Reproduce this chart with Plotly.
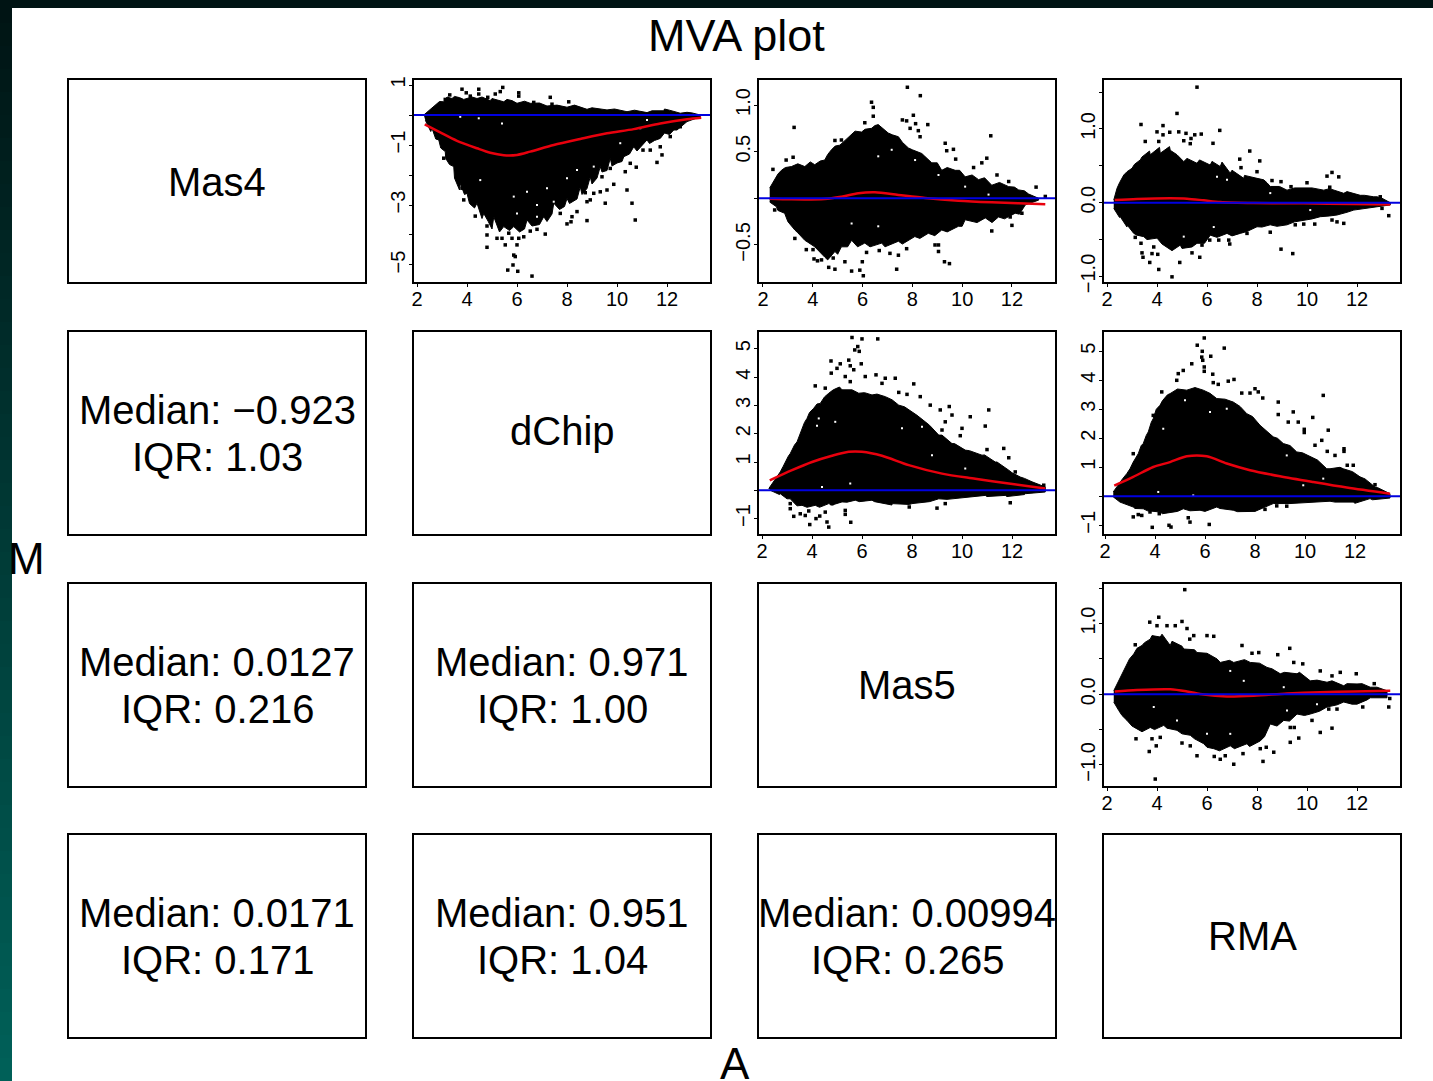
import plotly.graph_objects as go

TITLE = "MVA plot"
XLABEL = "A"
YLABEL = "M"
NAMES = {"p11": "Mas4", "p22": "dChip", "p33": "Mas5", "p44": "RMA"}
STATS = {
    "p21": ("Median: \u22120.923", "IQR: 1.03"),
    "p31": ("Median: 0.0127", "IQR: 0.216"),
    "p32": ("Median: 0.971", "IQR: 1.00"),
    "p41": ("Median: 0.0171", "IQR: 0.171"),
    "p42": ("Median: 0.951", "IQR: 1.04"),
    "p43": ("Median: 0.00994", "IQR: 0.265"),
}
A_TICKS = [2, 4, 6, 8, 10, 12]

# Mas4 vs dChip
p12_top = [(2.27,0),(2.47,.14),(2.73,.33),(3.07,.44),(3.4,.55),(3.87,.52),(4.4,.55),(4.93,.48),(5.47,.44),(6,.39),(6.53,.39),(7.2,.3),(8,.26),(8.8,.19),(9.6,.17),(10.4,.11),(11.2,.08),(11.87,.14),(12.53,.06),(13.33,0)]
p12_low = [(13.33,-.06),(12.8,-.22),(12.27,-.5),(11.73,-.78),(11.2,-.83),(10.67,-1.06),(10.27,-1.39),(9.73,-1.44),(9.33,-1.72),(8.93,-2.06),(8.53,-2.39),(8,-2.78),(7.47,-2.94),(7.07,-3.39),(6.4,-3.5),(5.87,-3.72),(5.47,-3.72),(5.07,-3.39),(4.67,-3.28),(4.4,-2.94),(4,-2.61),(3.73,-2.28),(3.47,-1.72),(3.13,-1.22),(2.87,-.83),(2.6,-.44),(2.33,-.17)]
p12_out = [(5.43,.92),(4.47,.86),(3.8,.86),(3.97,.74),(4.47,.7),(5.33,.78),(6.07,.74),(6.07,.63),(3.31,.67),(3.13,.52),(3.67,.48),(4.13,.63),(4.83,.59),(5.13,.7),(7.33,.59),(6.67,.42),(7.4,.36),(8.07,.44),(3.07,-1.44),(3.8,-2.44),(3.87,-2.83),(4.33,-3.37),(4.8,-3.7),(4.8,-4),(4.8,-4.41),(5.2,-4.11),(5.4,-4.11),(5.53,-4.33),(5.67,-3.94),(5.8,-4.11),(6,-4.33),(6.07,-4.11),(5.87,-4.67),(5.93,-4.72),(5.84,-5),(5.63,-5.17),(6.03,-5.21),(6.6,-5.37),(7.13,-3.97),(6.8,-3.81),(6.53,-3.87),(6.27,-4.06),(8,-3.63),(8.16,-3.56),(8.8,-3.52),(8.4,-3.22),(7.73,-3.28),(8.2,-3.39),(10.73,-3.5),(10.6,-2.94),(10.4,-2.5),(9.53,-2.94),(9.87,-2.31),(9.6,-2.5),(9.33,-2.56),(8.8,-2.89),(8.93,-2.83),(9.07,-2.61),(8.73,-2.59),(11.6,-1.58),(11.8,-1.33),(10.77,-1.74),(10.53,-1.61),(10.33,-1.89),(9.73,-1.78),(9.4,-2.06),(11.04,-1.17),(11.33,-1.17),(11.73,-1.06),(12.13,-.72),(12.53,-.39)]
p12_edge = [(12.6,-.35),(12.4,-.5),(12.1,-.65),(11.9,-.6),(11.5,-.85),(11.3,-.95),(11,-1.0),(10.8,-1.2),(10.5,-1.3),(10.2,-1.55),(10,-1.6),(9.8,-1.7),(9.6,-1.85),(9.4,-1.9),(9.2,-2.1),(9,-2.3),(8.8,-2.45),(8.6,-2.65),(8.4,-2.8),(8.1,-2.95),(7.9,-3.05),(7.7,-3.15),(7.4,-3.3),(7.2,-3.55),(6.9,-3.65),(6.6,-3.7),(6.3,-3.8),(6.1,-3.9),(5.7,-3.85),(5.3,-3.9),(5,-3.8),(4.85,-3.55),(4.6,-3.45),(4.3,-3.1),(4.1,-2.95),(3.9,-2.65),(3.7,-2.5),(3.5,-2.1),(3.3,-1.65),(3.15,-1.45),(2.95,-1.1),(2.75,-.8),(2.55,-.55),(2.9,.45),(3.2,.6),(3.5,.62),(3.7,.58),(4.2,.6),(4.6,.6),(5,.55),(5.6,.52),(5.8,.48),(6.3,.46),(6.9,.4),(7.6,.33),(8.3,.33),(9,.24),(9.9,.2),(10.7,.16),(11.4,.14),(11.9,.2),(12.1,.16),(12.8,.09),(13,.07)]
p12_gap = [(5.87,-2.72),(6.8,-3),(7.2,-2.44),(8,-2.11),(8.4,-1.83),(7.47,-2.89),(9.07,-1.72),(10.13,-.94),(4.53,-2.17),(6.4,-2.56),(6,-3.28),(6.8,-3.39),(5.4,-.28),(3.73,-.06),(4.47,-.11),(11.2,-.17),(10.93,-.44)]
p12_fit = [(2.31,-.31),(2.93,-.58),(3.6,-.86),(4.4,-1.11),(4.93,-1.26),(5.47,-1.34),(6,-1.33),(6.53,-1.22),(7.47,-1),(8.53,-.8),(9.6,-.61),(10.67,-.47),(11.73,-.28),(12.8,-.14),(13.37,-.09)]

# Mas4 vs Mas5
p13_top = [(2.27,.11),(2.47,.21),(2.74,.30),(3.14,.34),(3.68,.34),(4.08,.36),(4.48,.41),(4.75,.52),(5.09,.57),(5.56,.68),(5.96,.71),(6.36,.75),(6.63,.79),(7.03,.70),(7.44,.66),(7.84,.54),(8.38,.48),(8.78,.38),(9.18,.30),(9.72,.30),(10.12,.23),(10.66,.20),(11.19,.14),(11.87,.125),(12.27,.09),(12.67,.046),(13.07,0)]
p13_low = [(13.07,-.02),(12.54,-.07),(12.13,-.16),(11.46,-.2),(10.93,-.21),(10.12,-.23),(9.85,-.30),(9.18,-.34),(8.64,-.375),(8.1,-.41),(7.44,-.46),(6.77,-.48),(6.09,-.48),(5.56,-.45),(5.15,-.52),(4.89,-.57),(4.48,-.63),(4.08,-.52),(3.68,-.45),(3.28,-.34),(2.87,-.16),(2.54,-.09),(2.27,-.04)]
p13_out = [(7.8,1.19),(8.32,1.10),(6.36,1.03),(6.43,.975),(6.43,.88),(3.25,.76),(11.15,.67),(9.32,.59),(9.38,.51),(9.65,.525),(9.74,.42),(3.21,.44),(2.93,.41),(2.4,.31),(4.89,.62),(5.15,.625),(7.6,.84),(7.77,.83),(8.04,.89),(8.13,.80),(8.62,.79),(8.24,.725),(8.31,.66),(7.91,.75),(6.09,.81),(10.79,.38),(10.99,.43),(10.46,.33),(11.4,.25),(11.87,.18),(12.97,.12),(13.34,.02),(11.19,-.35),(12,-.29),(12.4,-.16),(11.93,-.2),(3.74,-.55),(4.01,-.55),(4.05,-.65),(4.19,-.67),(4.35,-.66),(4.82,-.64),(5.29,-.68),(4.64,-.74),(4.89,-.76),(5.56,-.78),(5.89,-.77),(6.03,-.83),(5.99,-.68),(7.37,-.76),(7.44,-.61),(7.1,-.59),(6.67,-.56),(6.16,-.58),(7.77,-.54),(8.91,-.5),(9.05,-.5),(9.05,-.57),(9.29,-.68),(9.49,-.70),(3.28,-.43),(2.47,-.125)]
p13_edge = [(2.6,.26),(2.9,.33),(3.4,.37),(3.9,.39),(4.3,.4),(4.6,.47),(4.9,.56),(5.3,.62),(5.7,.72),(6.1,.74),(6.5,.78),(6.8,.75),(7.2,.68),(7.6,.6),(8,.52),(8.5,.45),(9,.38),(9.4,.33),(9.9,.3),(10.4,.25),(10.9,.22),(11.5,.17),(12.1,.12),(12.5,.08),(2.6,-.13),(3,-.25),(3.4,-.37),(3.8,-.47),(4.2,-.56),(4.6,-.66),(5,-.6),(5.4,-.52),(5.8,-.52),(6.3,-.52),(6.9,-.52),(7.6,-.49),(8.3,-.43),(8.9,-.4),(9.4,-.36),(10,-.3),(10.6,-.26),(11.2,-.26),(11.7,-.22),(12.3,-.17)]
p13_gap = [(6.63,.45),(7.17,.52),(8.11,.41),(5.56,-.27),(6.63,-.30),(9.05,.25),(10.12,.125),(11.06,.04)]
p13_fit = [(2.27,-.004),(3.14,-.011),(4.48,-.007),(5.15,.018),(5.83,.054),(6.5,.064),(7.44,.036),(8.51,.004),(9.85,-.025),(11.19,-.043),(12.27,-.054),(13.34,-.064)]

# Mas4 vs RMA
p14_top = [(2.27,.036),(2.4,.195),(2.67,.375),(3,.466),(3.33,.58),(3.73,.65),(4.13,.67),(4.53,.71),(5.07,.557),(5.6,.534),(6.13,.51),(6.53,.49),(6.93,.40),(7.47,.33),(8.27,.31),(8.53,.22),(9.2,.17),(9.87,.195),(10.67,.17),(11.47,.127),(12.13,.10),(12.67,.08),(13,.06),(13.33,0)]
p14_low = [(13.33,-.03),(12.53,-.063),(11.87,-.10),(11.2,-.167),(10.53,-.19),(9.87,-.235),(9.2,-.30),(8.53,-.30),(8,-.326),(7.33,-.416),(6.8,-.416),(6.13,-.44),(5.6,-.55),(4.93,-.575),(4.4,-.6),(4,-.48),(3.47,-.46),(3.07,-.416),(2.8,-.30),(2.53,-.19),(2.27,-.077)]
p14_out = [(5.6,1.566),(4.8,1.21),(3.36,1.06),(4.24,1.045),(6.51,.98),(4,.96),(4.51,.955),(4.87,.96),(5.16,.94),(5.51,.92),(5.77,.93),(4.24,.92),(3.53,.83),(4.07,.83),(5.07,.84),(5.36,.87),(5.33,.80),(6.24,.805),(7.71,.70),(8.11,.566),(7.31,.59),(7.36,.475),(8,.42),(8.6,.30),(8.96,.285),(9.36,.217),(10,.27),(10.8,.36),(11,.41),(11.27,.35),(10.91,.21),(12.93,.08),(13.27,-.176),(13,-.077),(11.47,-.28),(11.2,-.26),(11,-.235),(10.31,-.29),(9.87,-.29),(9.53,-.30),(8.53,-.40),(8.96,-.63),(9.43,-.69),(7.6,-.416),(6.91,-.56),(6.87,-.507),(6.47,-.507),(6.11,-.507),(5.8,-.575),(5.71,-.74),(5.4,-.68),(4.91,-.81),(4.6,-1.005),(4.07,-.905),(3.71,-.81),(3.44,-.74),(3.4,-.68),(3.8,-.69),(4.03,-.70),(3.87,-.6),(3.36,-.55),(3.13,-.47)]
p14_edge = [(2.5,.27),(2.8,.42),(3.1,.52),(3.4,.62),(3.7,.7),(4.1,.75),(4.5,.76),(4.8,.65),(5.2,.6),(5.7,.58),(6.2,.56),(6.6,.55),(7,.44),(7.5,.37),(8,.33),(8.4,.27),(8.9,.22),(9.5,.2),(10.2,.2),(10.9,.19),(11.6,.15),(12.3,.1),(12.8,.08),(2.5,-.2),(2.8,-.33),(3.2,-.44),(3.6,-.5),(4.2,-.56),(4.6,-.65),(5,-.62),(5.4,-.6),(5.9,-.55),(6.4,-.47),(7,-.45),(7.6,-.39),(8.2,-.33),(8.8,-.32),(9.5,-.26),(10.2,-.22),(10.9,-.18),(11.6,-.13),(12.3,-.08)]
p14_gap = [(6.4,.35),(6.8,.31),(8.53,.13),(10.13,-.1),(5.07,-.46),(6.27,-.33)]
p14_fit = [(2.31,.036),(3.2,.05),(4.53,.059),(5.2,.054),(5.87,.032),(6.53,.009),(7.87,-.005),(9.87,-.009),(11.87,-.018),(13.33,-.023)]

# dChip vs Mas5
p23_top = [(2.27,.06),(2.47,.30),(2.73,.65),(2.93,1.0),(3.13,1.30),(3.4,1.71),(3.6,2.13),(3.8,2.54),(4.07,2.90),(4.33,3.07),(4.67,3.43),(5.2,3.55),(5.87,3.43),(6.4,3.37),(6.93,3.31),(7.47,3.01),(8,2.78),(8.53,2.42),(9.07,1.95),(9.6,1.65),(10.13,1.42),(10.8,1.24),(11.33,1.0),(11.87,.71),(12.33,.47),(12.8,.30),(13.33,.12)]
p23_low = [(13.33,-.06),(12.53,-.12),(11.73,-.18),(10.93,-.18),(9.87,-.27),(9.07,-.3),(8,-.47),(7.2,-.47),(6.4,-.35),(5.73,-.35),(5.2,-.41),(4.67,-.47),(4.13,-.53),(3.6,-.53),(3.13,-.3),(2.73,-.12),(2.33,0)]
p23_out = [(5.6,5.40),(6,5.35),(6.63,5.35),(5.83,5.08),(5.71,4.96),(5.89,4.91),(4.76,4.57),(5.47,4.6),(5.53,4.40),(5.13,4.47),(5.97,4.47),(5,4.31),(4.77,4.14),(5.67,4.26),(5.33,4.02),(6.13,4.02),(6.56,4.08),(5.53,3.84),(6.8,3.78),(6.93,3.96),(7.33,3.96),(8.07,3.76),(4.13,3.69),(4.53,3.61),(7.47,3.46),(8.33,3.31),(7.8,3.39),(8.73,3.01),(9.13,2.84),(9.49,2.96),(11.07,2.84),(10.33,2.6),(9.6,2.66),(9.2,2.13),(9.33,2.42),(10.93,2.27),(10,2.19),(9.93,1.93),(11.67,1.48),(11.87,1.15),(11,1.44),(12.13,.65),(13.27,.18),(11.93,-.44),(9.33,-.47),(9,-.63),(7.89,-.59),(5.55,-1.13),(4.67,-1.3),(4.6,-1.12),(3.91,-1.21),(4.16,-1.0),(3.27,-.92),(3.53,-.83),(3.73,-.89),(4.31,-.91),(4.53,-.77),(4.8,-.47),(5.33,-.71),(5.33,-.85),(3.13,-.65),(3.13,-.47),(3.87,-.73)]
p23_edge = [(2.6,.5),(2.85,.85),(3.05,1.2),(3.3,1.6),(3.5,1.95),(3.7,2.4),(3.9,2.75),(4.2,3.05),(4.5,3.3),(4.85,3.55),(5.1,3.65),(5.6,3.55),(6.1,3.45),(6.6,3.4),(7.2,3.2),(7.7,2.95),(8.2,2.65),(8.7,2.3),(9.2,1.95),(9.7,1.65),(10.3,1.4),(10.9,1.25),(11.4,1.0),(12,.62),(12.5,.42),(2.7,-.15),(3,-.3),(3.4,-.55),(3.8,-.6),(4.3,-.6),(4.8,-.52),(5.4,-.42),(5.9,-.4),(6.5,-.4),(7.2,-.52),(7.9,-.5),(8.7,-.4),(9.4,-.32),(10.2,-.25),(11,-.22),(11.8,-.22),(12.5,-.15)]
p23_gap = [(4.93,2.42),(4.2,2.28),(4.27,2.54),(7.6,2.19),(8.4,2.25),(5.53,.24),(4.4,.12),(10.13,.77),(8.8,1.24)]
p23_fit = [(2.31,.35),(3.2,.71),(4,1.0),(4.8,1.22),(5.47,1.36),(6,1.36),(6.8,1.22),(7.87,.89),(9.2,.59),(10.53,.41),(11.87,.24),(13.33,.06)]

# dChip vs RMA
p24_top = [(2.33,.15),(2.6,.49),(2.87,.78),(3.13,1.18),(3.33,1.47),(3.53,1.82),(3.73,2.22),(3.93,2.68),(4.2,3.14),(4.6,3.54),(5.27,3.66),(5.93,3.66),(6.47,3.37),(7.13,3.25),(7.67,2.85),(8.2,2.45),(8.73,2.05),(9.13,1.82),(9.67,1.53),(10.33,1.30),(10.87,.95),(11.53,.95),(12.2,.67),(12.8,.32),(13.4,.09)]
p24_low = [(13.4,-.06),(12.6,-.08),(11.93,-.2),(11,-.17),(9.93,-.22),(8.73,-.25),(8.07,-.48),(7.13,-.48),(6.47,-.37),(5.8,-.48),(5.13,-.43),(4.73,-.54),(4.2,-.54),(3.53,-.43),(3.13,-.37),(2.6,-.2),(2.33,-.02)]
p24_out = [(5.97,5.46),(5.69,5.21),(6.77,5.11),(5.89,5.0),(6.23,4.83),(5.87,4.8),(5.91,4.69),(5.97,4.46),(5.97,4.31),(5.47,4.57),(5.13,4.34),(4.93,4.23),(4.87,4.0),(6.31,4.21),(6.33,3.92),(6.53,3.86),(6.93,3.97),(7.16,4.03),(4.27,3.6),(8,3.71),(8.13,3.6),(7.8,3.56),(7.47,3.56),(8.31,3.39),(8.93,3.25),(9.53,2.91),(9.33,2.56),(9.73,2.56),(8.93,2.82),(10.73,3.48),(10.31,2.72),(10.93,2.28),(9.97,2.31),(9.97,2.2),(10.67,1.93),(11.56,1.64),(11.56,1.55),(11.2,1.41),(10.89,1.55),(10.4,1.76),(11.93,1.07),(11.69,1.07),(12.8,.4),(3.13,1.47),(3.93,2.79),(9.27,-.34),(8.87,-.33),(8.4,-.45),(7.67,-.46),(6.17,-.97),(5.4,-.89),(5.33,-.74),(4.64,-1.06),(4.56,-1.0),(3.89,-1.07),(4.17,-.6),(3.8,-.54),(3.13,-.71),(3.33,-.63),(3.47,-.66)]
p24_edge = [(2.7,.6),(3,.95),(3.2,1.3),(3.45,1.75),(3.65,2.1),(3.85,2.55),(4.05,3),(4.3,3.3),(4.5,3.5),(4.9,3.7),(5.6,3.75),(6.2,3.55),(6.8,3.35),(7.4,3.1),(7.9,2.75),(8.4,2.3),(8.9,2),(9.4,1.75),(9.9,1.5),(10.5,1.25),(11,.95),(11.4,1),(11.9,.85),(12.4,.6),(12.9,.3),(2.8,-.25),(3.2,-.42),(3.7,-.5),(4.3,-.6),(4.9,-.52),(5.4,-.5),(6,-.52),(6.6,-.42),(7.3,-.53),(8,-.52),(8.6,-.3),(9.4,-.25),(10.2,-.22),(11.2,-.2),(12,-.24),(12.7,-.12)]
p24_gap = [(5.2,3.31),(4.33,2.33),(6.2,2.91),(6.87,3.02),(4.13,.15),(5.53,.03),(9.27,1.41),(9.93,.38),(10.73,.61)]
p24_fit = [(2.37,.37),(3.13,.67),(3.93,1.01),(4.6,1.18),(5.27,1.38),(6.07,1.38),(6.87,1.13),(7.8,.9),(9,.69),(10.33,.49),(11.67,.3),(13.4,.09)]

# Mas5 vs RMA
p34_top = [(2.27,.05),(2.47,.19),(2.73,.38),(3.07,.57),(3.4,.69),(3.73,.78),(4.13,.81),(4.53,.69),(5.07,.64),(5.6,.59),(6.13,.55),(6.53,.45),(7.07,.45),(7.73,.45),(8.4,.38),(8.93,.29),(9.6,.29),(10.13,.19),(10.8,.17),(11.47,.12),(12,.146),(12.53,.1),(13.2,.05)]
p34_low = [(13.2,-.05),(12.53,-.05),(12,-.14),(11.47,-.11),(10.8,-.18),(10.13,-.28),(9.6,-.28),(9.07,-.37),(8.53,-.42),(8.13,-.66),(7.6,-.70),(6.93,-.73),(6.27,-.77),(5.87,-.70),(5.33,-.58),(4.8,-.51),(4.27,-.44),(3.73,-.47),(3.2,-.49),(2.8,-.37),(2.47,-.23),(2.27,-.11)]
p34_out = [(5.11,1.48),(4.07,1.09),(3.71,1.02),(4,.97),(4.4,.97),(4.73,.97),(5,1.03),(5.2,.93),(5.47,.83),(6,.83),(6.27,.82),(5.31,.78),(3.13,.70),(7.4,.69),(7.8,.58),(8.07,.59),(8.83,.56),(9.31,.65),(9.47,.45),(9.83,.43),(10.53,.33),(11.33,.31),(11.97,.29),(11,.26),(12.69,.15),(13.31,-.06),(13.27,-.18),(12.23,-.18),(11.2,-.21),(10.87,-.21),(10.53,-.54),(11,-.48),(10.2,-.37),(9.67,-.62),(9.33,-.68),(8.67,-.82),(8.24,-.95),(7.07,-.99),(6.53,-.92),(6.29,-.88),(6.73,-.87),(5.6,-.87),(3.93,-1.2),(3.69,-.81),(3.8,-.63),(3.97,-.73),(3.16,-.63),(4.13,-.61),(5,-.69),(5.33,-.73),(7.44,-.84),(8.37,-.75),(8.13,-.77),(9.33,-.47),(9.49,-.47)]
p34_edge = [(2.6,.3),(2.9,.5),(3.2,.65),(3.5,.73),(3.8,.83),(4.2,.85),(4.6,.75),(5,.68),(5.5,.63),(6,.58),(6.4,.5),(6.9,.48),(7.5,.49),(8.1,.44),(8.6,.36),(9.1,.31),(9.7,.31),(10.4,.2),(11,.19),(11.6,.15),(12.2,.15),(12.8,.1),(2.6,-.3),(3,-.45),(3.4,-.53),(3.9,-.5),(4.4,-.48),(5,-.56),(5.5,-.63),(6,-.75),(6.5,-.8),(7.1,-.77),(7.7,-.74),(8.3,-.6),(8.8,-.45),(9.3,-.38),(9.9,-.3),(10.5,-.24),(11.2,-.15),(11.8,-.14),(12.4,-.08)]
p34_gap = [(6.93,.33),(7.47,.19),(9.07,.1),(10.4,-.14),(9.2,-.23),(6.93,-.56),(6,-.56),(3.87,-.18),(4.8,-.37)]
p34_fit = [(2.31,.04),(3.2,.06),(4.53,.07),(5.2,.04),(5.87,-.005),(6.8,-.03),(7.87,-.02),(9.2,.01),(10.53,.03),(11.87,.04),(13.33,.05)]

Y_AXES = {
    "p12": dict(range=[-5.567, 1.167], vals=[-5, -4, -3, -2, -1, 0, 1], text=["\u22125", "", "\u22123", "", "\u22121", "", "1"]),
    "p13": dict(range=[-0.897, 1.268], vals=[-0.5, 0, 0.5, 1.0], text=["\u22120.5", "", "0.5", "1.0"]),
    "p14": dict(range=[-1.075, 1.663], vals=[-1.0, -0.5, 0, 0.5, 1.0, 1.5], text=["\u22121.0", "", "0.0", "", "1.0", ""]),
    "p23": dict(range=[-1.544, 5.594], vals=[-1, 0, 1, 2, 3, 4, 5], text=["\u22121", "", "1", "2", "3", "4", "5"]),
    "p24": dict(range=[-1.3, 5.666], vals=[-1, 0, 1, 2, 3, 4, 5], text=["\u22121", "", "1", "2", "3", "4", "5"]),
    "p34": dict(range=[-1.298, 1.56], vals=[-1.0, -0.5, 0, 0.5, 1.0, 1.5], text=["\u22121.0", "", "0.0", "", "1.0", ""]),
}
X_RANGES = {
    "p12": [1.88, 13.72], "p13": [1.84, 13.73], "p14": [1.88, 13.72],
    "p23": [1.88, 13.72], "p24": [1.96, 13.80], "p34": [1.88, 13.72],
}
PANELS = {
    "p12": (p12_top, p12_low, p12_out, p12_edge, p12_gap, p12_fit),
    "p13": (p13_top, p13_low, p13_out, p13_edge, p13_gap, p13_fit),
    "p14": (p14_top, p14_low, p14_out, p14_edge, p14_gap, p14_fit),
    "p23": (p23_top, p23_low, p23_out, p23_edge, p23_gap, p23_fit),
    "p24": (p24_top, p24_low, p24_out, p24_edge, p24_gap, p24_fit),
    "p34": (p34_top, p34_low, p34_out, p34_edge, p34_gap, p34_fit),
}

W, H = 1433, 1081
COL_L = [69, 414, 759, 1104]
COL_R = [365, 710, 1055, 1400]
ROW_T = [80, 332, 584, 835]
ROW_B = [282, 534, 786, 1037]
NAME_Y = {"p11": 182, "p22": 431, "p33": 685, "p44": 936}
FONT = "Liberation Sans, Arial, sans-serif"
EDGE_TOP = "#001414"
EDGE_BOTTOM = "#006058"
STRIP_STEPS = 47


def mix(t):
    a = [int(EDGE_TOP[i:i + 2], 16) for i in (1, 3, 5)]
    b = [int(EDGE_BOTTOM[i:i + 2], 16) for i in (1, 3, 5)]
    return "rgb(%d,%d,%d)" % tuple(round(p + (q - p) * t) for p, q in zip(a, b))


fig = go.Figure()
layout = dict(
    width=W, height=H, autosize=False, margin=dict(l=0, r=0, t=0, b=0, pad=0),
    paper_bgcolor="white", plot_bgcolor="rgba(0,0,0,0)", showlegend=False,
    font=dict(family=FONT, color="black"),
)
shapes, annotations = [], []


def text(s, px, py, size):
    # full-page helper axes (x17 / y17) measure in page pixels
    annotations.append(dict(text=s, x=px, y=py, xref="x17", yref="y17",
                            xanchor="center", yanchor="middle", showarrow=False,
                            font=dict(size=size, family=FONT, color="black")))


n = 0
for r in range(4):
    for c in range(4):
        n += 1
        key = f"p{r + 1}{c + 1}"
        s = "" if n == 1 else str(n)
        xa = dict(domain=[COL_L[c] / W, COL_R[c] / W], anchor=f"y{s}", showgrid=False, zeroline=False, automargin=False,
                  showline=True, mirror=True, linecolor="black", linewidth=2, showticklabels=False, ticks="")
        ya = dict(domain=[1 - ROW_B[r] / H, 1 - ROW_T[r] / H], anchor=f"x{s}", showgrid=False, zeroline=False, automargin=False,
                  showline=True, mirror=True, linecolor="black", linewidth=2, showticklabels=False, ticks="")
        if key in PANELS:
            top, low, out, edge, gap, fit = PANELS[key]
            yinfo = Y_AXES[key]
            xa.update(range=X_RANGES[key], tickmode="array", tickvals=A_TICKS, ticktext=[str(v) for v in A_TICKS],
                      showticklabels=True, ticks="outside", ticklen=3, tickwidth=1, tickcolor="black",
                      tickfont=dict(size=20, family=FONT), ticklabelstandoff=-5)
            ya.update(range=yinfo["range"], tickmode="array", tickvals=yinfo["vals"], ticktext=yinfo["text"],
                      showticklabels=True, ticks="outside", ticklen=3, tickwidth=1, tickcolor="black",
                      tickangle=-90, tickfont=dict(size=20, family=FONT), ticklabelstandoff=-4)
            upper = sorted(top + [p for p in edge if p[1] >= 0])
            lower = sorted(low + [p for p in edge if p[1] < 0], reverse=True)
            outline = upper + lower
            fig.add_trace(go.Scatter(x=[p[0] for p in outline], y=[p[1] for p in outline], mode="lines",
                                     fill="toself", fillcolor="black", line=dict(color="black", width=1),
                                     hoverinfo="skip", xaxis=f"x{s}", yaxis=f"y{s}"))
            fig.add_trace(go.Scatter(x=[p[0] for p in out], y=[p[1] for p in out], mode="markers",
                                     marker=dict(symbol="square", size=3.5, color="black", line=dict(width=0)),
                                     xaxis=f"x{s}", yaxis=f"y{s}"))
            fig.add_trace(go.Scatter(x=[p[0] for p in gap], y=[p[1] for p in gap], mode="markers",
                                     marker=dict(symbol="square", size=2, color="white", line=dict(width=0)),
                                     hoverinfo="skip", xaxis=f"x{s}", yaxis=f"y{s}"))
            fig.add_trace(go.Scatter(x=[p[0] for p in fit], y=[p[1] for p in fit], mode="lines",
                                     line=dict(color="#e8000d", width=2.5, shape="spline", smoothing=0.8),
                                     xaxis=f"x{s}", yaxis=f"y{s}"))
            shapes.append(dict(type="line", xref=f"x{s} domain", x0=0, x1=1, yref=f"y{s}", y0=0, y1=0,
                               line=dict(color="#0000e0", width=2)))
        else:
            xa.update(range=[0, 1])
            ya.update(range=[0, 1])
            fig.add_trace(go.Scatter(x=[], y=[], xaxis=f"x{s}", yaxis=f"y{s}", hoverinfo="skip"))
        layout[f"xaxis{s}"] = xa
        layout[f"yaxis{s}"] = ya
        cx = (COL_L[c] + COL_R[c]) / 2
        cy = (ROW_T[r] + ROW_B[r]) / 2
        if key in NAMES:
            text(NAMES[key], cx, NAME_Y[key], 40)
        if key in STATS:
            text(STATS[key][0], cx, cy - 23, 40)
            text(STATS[key][1], cx, cy + 24, 40)

text(TITLE, 736, 35, 45)
text(YLABEL, 26, 558, 44)
text(XLABEL, 735, 1063, 44)

layout["xaxis17"] = dict(domain=[0, 1], range=[0, W], anchor="y17", visible=False, fixedrange=True, automargin=False)
layout["yaxis17"] = dict(domain=[0, 1], range=[H, 0], anchor="x17", visible=False, fixedrange=True, automargin=False)
fig.add_trace(go.Scatter(x=[], y=[], xaxis="x17", yaxis="y17", hoverinfo="skip"))

shapes.append(dict(type="rect", xref="paper", yref="paper", x0=0, x1=1, y0=1 - 8 / H, y1=1,
                   fillcolor=EDGE_TOP, line=dict(width=0), layer="above"))
for i in range(STRIP_STEPS):
    shapes.append(dict(type="rect", xref="paper", yref="paper", x0=0, x1=12 / W,
                       y0=1 - (i + 1) / STRIP_STEPS, y1=1 - i / STRIP_STEPS,
                       fillcolor=mix(i / (STRIP_STEPS - 1)), line=dict(width=0), layer="above"))

layout["shapes"] = shapes
layout["annotations"] = annotations
fig.update_layout(**layout)
fig.write_html("out.html", config={"displayModeBar": False},
               post_script="document.body.style.margin='0';")
